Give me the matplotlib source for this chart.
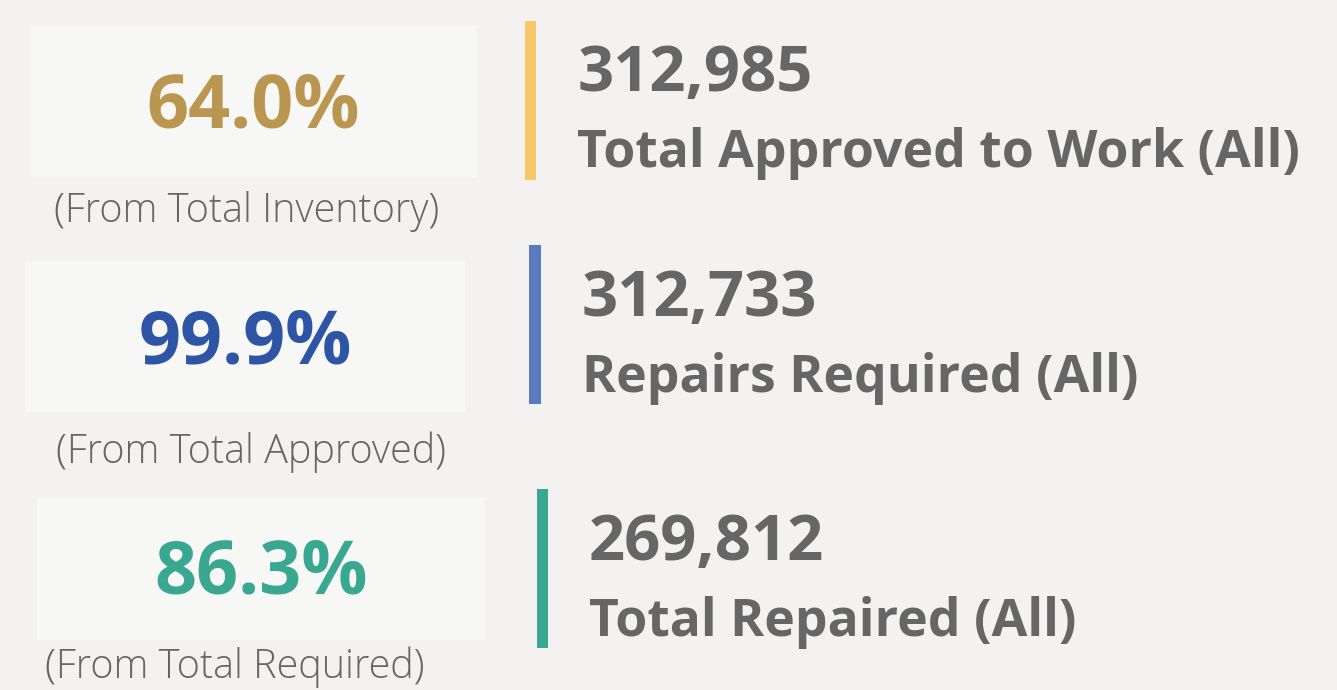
import matplotlib
matplotlib.use("Agg")
import matplotlib.pyplot as plt
from matplotlib.patches import Rectangle

# ---- data ----
percent_values = [64.0, 99.9, 86.3]
percent_notes = ["(From Total Inventory)", "(From Total Approved)", "(From Total Required)"]
count_values = [312985, 312733, 269812]
count_labels = ["Total Approved to Work (All)", "Repairs Required (All)", "Total Repaired (All)"]
percent_colors = ["#BB9651", "#2E55A5", "#3AA891"]
accent_colors = ["#F5C869", "#5B7BC0", "#3AA891"]

# ---- layout (pixels) ----
W, H = 1337, 690
boxes = [(30, 25, 447, 152), (25, 261, 440, 151), (37, 497, 448, 143)]
pct_centers = [(253, 99), (245, 335), (261, 565)]
note_centers = [(247, 207), (251, 447), (235, 662)]
bars = [(525, 21, 11, 159), (529, 245, 12, 159), (537, 489, 11, 159)]
num_pos = [(578, 67), (582, 292), (589, 536)]
lab_pos = [(577, 147), (582, 372), (589, 616)]

BG = "#F3F2F0"
BOX = "#F7F7F5"
GRAY = "#666666"

fig = plt.figure(figsize=(W / 100, H / 100), dpi=100, facecolor=BG)
ax = fig.add_axes([0, 0, 1, 1])
ax.set_xlim(0, W)
ax.set_ylim(H, 0)
ax.axis("off")
ax.set_facecolor(BG)

bold = dict(family=["Open Sans", "DejaVu Sans"], weight="bold")
light = dict(family=["Open Sans", "DejaVu Sans"], weight="light")

for i in range(3):
    x, y, w, h = boxes[i]
    ax.add_patch(Rectangle((x, y), w, h, facecolor=BOX, edgecolor="none"))
    cx, cy = pct_centers[i]
    ax.text(cx, cy, f"{percent_values[i]:.1f}%", color=percent_colors[i],
            fontsize=53, ha="center", va="center_baseline", **bold)
    nx, ny = note_centers[i]
    ax.text(nx, ny, percent_notes[i], color=GRAY, fontsize=28.5,
            ha="center", va="center_baseline", **light)
    bx, by, bw, bh = bars[i]
    ax.add_patch(Rectangle((bx, by), bw, bh, facecolor=accent_colors[i], edgecolor="none"))
    px, py = num_pos[i]
    ax.text(px, py, f"{count_values[i]:,}", color=GRAY, fontsize=45.5,
            ha="left", va="center_baseline", **bold)
    lx, ly = lab_pos[i]
    ax.text(lx, ly, count_labels[i], color=GRAY, fontsize=37.3,
            ha="left", va="center_baseline", **bold)

fig.savefig("out.png", dpi=100, facecolor=BG)
